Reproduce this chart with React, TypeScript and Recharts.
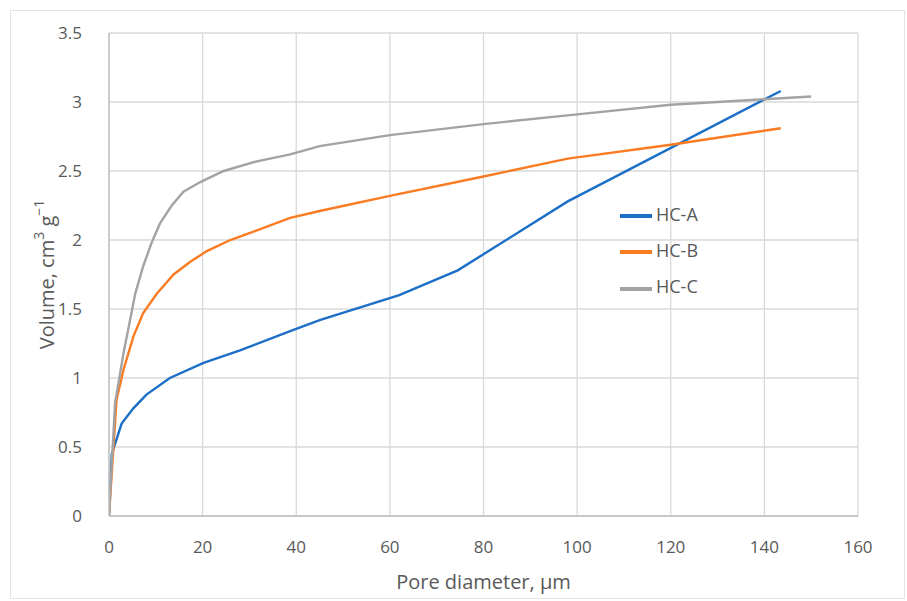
import React from 'react';
import { LineChart, Line, XAxis, YAxis, CartesianGrid, Legend } from 'recharts';

// pore diameter (µm) / cumulative volume (cm3 g-1)
const hcAx = [0, 0.6, 2.7, 5.2, 8, 13, 20.2, 28, 38.7, 45, 62, 74.5, 98, 143.5];
const hcAy = [0, 0.45, 0.67, 0.78, 0.88, 1.0, 1.11, 1.2, 1.34, 1.42, 1.6, 1.78, 2.28, 3.08];

const hcBx = [0, 1.6, 3.1, 5.2, 7.3, 10.2, 13.8, 17.3, 20.9, 25.9, 31.6, 38.7, 45, 60, 80, 98, 120, 143.5];
const hcBy = [0, 0.84, 1.06, 1.3, 1.47, 1.61, 1.75, 1.84, 1.92, 2.0, 2.07, 2.16, 2.21, 2.32, 2.46, 2.59, 2.69, 2.81];

const hcCx = [0, 1.3, 3.1, 5.6, 7.3, 9.1, 10.9, 13.4, 15.9, 19.5, 24.5, 31.6, 38.7, 45, 60, 80, 100, 120, 140, 150];
const hcCy = [0, 0.82, 1.18, 1.61, 1.81, 1.98, 2.12, 2.25, 2.35, 2.42, 2.5, 2.57, 2.62, 2.68, 2.76, 2.84, 2.91, 2.98, 3.02, 3.04];

const xTicks = [0, 20, 40, 60, 80, 100, 120, 140, 160];
const yTicks = [0, 0.5, 1, 1.5, 2, 2.5, 3, 3.5];

const toRows = (xs: number[], ys: number[]) => xs.map((x, i) => ({ x, y: ys[i] }));

const series = [
  { name: 'HC-A', color: '#1c6fc6', data: toRows(hcAx, hcAy) },
  { name: 'HC-B', color: '#fb7b22', data: toRows(hcBx, hcBy) },
  { name: 'HC-C', color: '#a3a3a3', data: toRows(hcCx, hcCy) },
];

const font = '"Open Sans", sans-serif';
const textColor = '#595959';

// y title with real superscripts
const VolumeLabel = ({ viewBox }: any) => {
  const cx = 46;
  const cy = viewBox.y + viewBox.height / 2;
  return (
    <text
      x={cx}
      y={cy}
      transform={`rotate(-90, ${cx}, ${cy})`}
      textAnchor="middle"
      dominantBaseline="central"
      fill={textColor}
      fontSize={20}
      fontFamily={font}
    >
      <tspan>Volume, cm</tspan>
      <tspan fontSize={14} dy={-8}>3</tspan>
      <tspan dy={8}> g</tspan>
      <tspan fontSize={14} dy={-8}>−1</tspan>
    </text>
  );
};

export default function App() {
  return (
    <div style={{ position: 'absolute', left: 0, top: 0, width: 907, height: 601, background: '#fff' }}>
      <div style={{ position: 'absolute', left: 10, top: 10, width: 895, height: 589, border: '1px solid #e4e4e4', boxSizing: 'border-box' }} />
      <LineChart
        width={907}
        height={601}
        margin={{ top: 33, right: 49, left: 0, bottom: 0 }}
        style={{ fontFamily: font }}
      >
        <CartesianGrid stroke="#d9d9d9" strokeWidth={1.3} />
        <XAxis
          type="number"
          dataKey="x"
          domain={[0, 160]}
          ticks={xTicks}
          allowDataOverflow
          height={85}
          tickLine={false}
          axisLine={{ stroke: '#bfbfbf', strokeWidth: 1.3 }}
          tick={{ fill: textColor, fontSize: 17 }}
          tickMargin={19}
          label={{ value: 'Pore diameter, µm', position: 'insideBottom', offset: 12, fill: textColor, fontSize: 20 }}
        />
        <YAxis
          type="number"
          dataKey="y"
          domain={[0, 3.5]}
          ticks={yTicks}
          width={109}
          tickLine={false}
          axisLine={{ stroke: '#bfbfbf', strokeWidth: 1.3 }}
          tick={{ fill: textColor, fontSize: 17 }}
          tickMargin={21}
          label={<VolumeLabel />}
        />
        <Legend
          layout="vertical"
          align="center"
          verticalAlign="middle"
          iconType="plainline"
          iconSize={32}
          wrapperStyle={{ left: 620, top: 196, width: 130, lineHeight: '36px', fontSize: 18, fontFamily: font }}
          formatter={(v) => <span style={{ color: textColor }}>{v}</span>}
        />
        {series.map((s) => (
          <Line
            key={s.name}
            data={s.data}
            dataKey="y"
            name={s.name}
            type="linear"
            stroke={s.color}
            strokeWidth={2.4}
            dot={false}
            isAnimationActive={false}
          />
        ))}
      </LineChart>
    </div>
  );
}
